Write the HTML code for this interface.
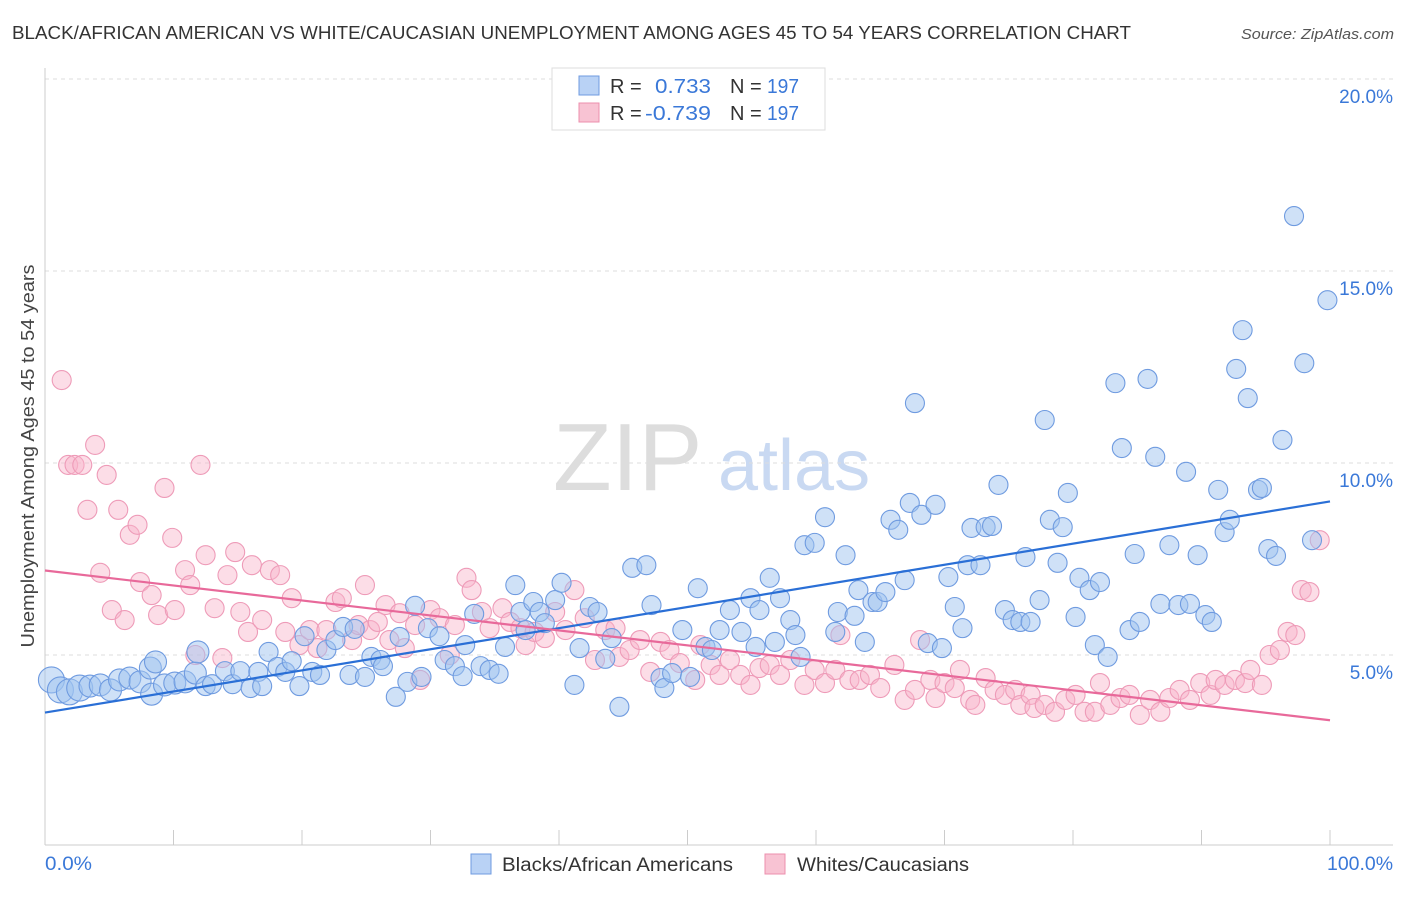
<!DOCTYPE html>
<html><head><meta charset="utf-8"><style>
body{margin:0;background:#fff;font-family:"Liberation Sans",sans-serif;}
svg text{font-family:"Liberation Sans",sans-serif;}
</style></head><body>
<svg id="chart" width="1406" height="892" viewBox="0 0 1406 892" xmlns="http://www.w3.org/2000/svg">
<text x="12" y="39" font-size="18" fill="#333" textLength="1119" lengthAdjust="spacingAndGlyphs">BLACK/AFRICAN AMERICAN VS WHITE/CAUCASIAN UNEMPLOYMENT AMONG AGES 45 TO 54 YEARS CORRELATION CHART</text>
<text x="1241" y="39" font-size="15" fill="#555" font-style="italic" textLength="153" lengthAdjust="spacingAndGlyphs">Source: ZipAtlas.com</text>
<g>
<text x="553" y="490" font-size="96" fill="#ddd" font-family="Liberation Serif, serif">ZIP</text>
<text x="718" y="490" font-size="72" fill="#c9d9f2">atlas</text>
</g>
<g id="grid"></g>
<g id="axes"></g>
<g id="pink"></g>
<g id="blue"></g>
<g id="trends"></g>
<text transform="translate(34,456) rotate(-90)" font-size="18" fill="#444" text-anchor="middle" textLength="383" lengthAdjust="spacingAndGlyphs">Unemployment Among Ages 45 to 54 years</text>
<text x="45" y="870" font-size="19" fill="#3a78d8" textLength="47" lengthAdjust="spacingAndGlyphs">0.0%</text>
<text x="1327" y="870" font-size="19" fill="#3a78d8" textLength="66" lengthAdjust="spacingAndGlyphs">100.0%</text>
<g>
<rect x="552" y="68" width="273" height="62" fill="#fff" stroke="#ddd"/>
<rect x="579" y="76" width="20" height="19" fill="#b9d2f5" stroke="#6f9be0"/>
<rect x="579" y="103" width="20" height="19" fill="#f8c3d3" stroke="#ec8fae"/>
<text x="610" y="93" font-size="20" fill="#333">R =</text>
<text x="655" y="93" font-size="20" fill="#3a78d8" textLength="56" lengthAdjust="spacingAndGlyphs">0.733</text>
<text x="730" y="93" font-size="20" fill="#333">N =</text>
<text x="767" y="93" font-size="20" fill="#3a78d8" textLength="32" lengthAdjust="spacingAndGlyphs">197</text>
<text x="610" y="120" font-size="20" fill="#333">R =</text>
<text x="645" y="120" font-size="20" fill="#3a78d8" textLength="66" lengthAdjust="spacingAndGlyphs">-0.739</text>
<text x="730" y="120" font-size="20" fill="#333">N =</text>
<text x="767" y="120" font-size="20" fill="#3a78d8" textLength="32" lengthAdjust="spacingAndGlyphs">197</text>
</g>
<g>
<rect x="471" y="854" width="20" height="20" fill="#b9d2f5" stroke="#6f9be0"/>
<text x="502" y="871" font-size="19" fill="#333" textLength="231" lengthAdjust="spacingAndGlyphs">Blacks/African Americans</text>
<rect x="765" y="854" width="20" height="20" fill="#f8c3d3" stroke="#ec8fae"/>
<text x="797" y="871" font-size="19" fill="#333" textLength="172" lengthAdjust="spacingAndGlyphs">Whites/Caucasians</text>
</g>
</svg>
<script>
const yTicks=[5,10,15,20];
const yTickLabels=["5.0%","10.0%","15.0%","20.0%"];
const xTicks=[0,10,20,30,40,50,60,70,80,90,100];
const blueX=[0.5,1.2,1.9,2.7,3.5,4.3,5.1,5.8,6.6,7.4,8.2,8.6,8.3,9.3,10.1,10.9,11.7,11.9,12.5,13.0,14.0,14.6,15.2,16.0,16.6,16.9,17.4,18.1,18.7,19.2,19.8,20.2,20.8,21.4,21.9,22.6,23.2,23.7,24.1,24.9,25.4,26.1,26.3,27.3,27.6,28.2,28.8,29.3,29.8,30.7,31.1,31.9,32.5,32.7,33.4,33.9,34.6,35.3,35.8,36.6,37.0,37.4,38.0,38.5,38.9,39.7,40.2,41.2,41.6,42.4,43.0,43.6,44.1,44.7,45.7,46.8,47.2,47.9,48.2,48.8,49.6,50.2,50.8,51.4,51.9,52.5,53.3,54.2,54.9,55.3,55.6,56.4,56.8,57.2,58.0,58.4,58.8,59.1,59.9,60.7,61.5,61.7,62.3,63.0,63.3,63.8,64.4,64.8,65.4,65.8,66.4,66.9,67.3,67.7,68.2,68.7,69.3,69.8,70.3,70.8,71.4,71.8,72.1,72.8,73.2,73.7,74.2,74.7,75.3,75.9,76.3,76.7,77.4,77.8,78.2,78.8,79.2,79.6,80.2,80.5,81.3,81.7,82.1,82.7,83.3,83.8,84.4,84.8,85.2,85.8,86.4,86.8,87.5,88.2,88.8,89.1,89.7,90.3,90.8,91.3,91.8,92.2,92.7,93.2,93.6,94.4,94.7,95.2,95.8,96.3,97.2,98.0,98.6,99.8];
const blueY=[4.35,4.09,4.04,4.14,4.19,4.22,4.09,4.35,4.40,4.30,4.66,4.82,3.98,4.22,4.27,4.30,4.53,5.08,4.19,4.24,4.58,4.24,4.58,4.14,4.56,4.19,5.08,4.69,4.56,4.84,4.19,5.49,4.56,4.48,5.13,5.39,5.73,4.48,5.68,4.43,4.95,4.87,4.71,3.91,5.47,4.30,6.28,4.43,5.70,5.49,4.87,4.71,4.45,5.26,6.07,4.71,4.61,4.51,5.21,6.82,6.12,5.65,6.38,6.12,5.83,6.43,6.88,4.22,5.18,6.25,6.12,4.90,5.44,3.65,7.27,7.34,6.30,4.40,4.14,4.53,5.65,4.43,6.74,5.21,5.13,5.65,6.17,5.60,6.48,5.21,6.17,7.01,5.34,6.48,5.91,5.52,4.95,7.86,7.92,8.59,5.60,6.12,7.60,6.02,6.69,5.34,6.38,6.38,6.64,8.52,8.26,6.95,8.96,11.56,8.65,5.31,8.91,5.18,7.03,6.25,5.70,7.34,8.31,7.34,8.33,8.36,9.43,6.17,5.91,5.86,7.55,5.86,6.43,11.12,8.52,7.40,8.33,9.22,5.99,7.01,6.69,5.26,6.90,4.95,12.08,10.39,5.65,7.63,5.86,12.19,10.16,6.33,7.86,6.30,9.77,6.33,7.60,6.04,5.86,9.30,8.20,8.52,12.45,13.46,11.69,9.30,9.35,7.76,7.58,10.60,16.43,12.60,7.99,14.24];
const pinkX=[1.3,1.8,2.3,2.9,3.3,3.9,4.3,4.8,5.2,5.7,6.2,6.6,7.2,7.4,8.3,8.8,9.3,9.9,10.1,10.9,11.3,11.7,12.1,12.5,13.2,13.8,14.2,14.8,15.2,15.8,16.1,16.9,17.5,18.3,18.7,19.2,19.8,20.6,21.2,21.9,22.6,23.1,23.9,24.4,24.9,25.3,25.9,26.5,26.8,27.6,28.0,28.8,29.2,30.0,30.7,31.5,31.9,32.8,33.2,34.0,34.6,35.6,36.2,37.0,37.4,38.1,38.9,39.7,40.5,41.2,42.0,42.8,43.6,44.4,44.7,45.5,46.3,47.1,47.9,48.6,49.4,50.6,51.0,51.8,52.5,53.3,54.1,54.9,55.6,56.4,57.2,58.0,59.1,59.9,60.7,61.5,61.9,62.6,63.4,64.2,65.0,66.1,66.9,67.7,68.1,68.9,69.3,70.0,70.8,71.2,72.0,72.4,73.2,73.9,74.7,75.5,75.9,76.7,77.0,77.8,78.6,79.4,80.2,80.9,81.7,82.1,82.9,83.7,84.4,85.2,86.0,86.8,87.5,88.3,89.1,89.9,90.7,91.1,91.8,92.6,93.4,93.8,94.7,95.3,96.1,96.7,97.3,97.8,98.4,99.2];
const pinkY=[12.16,9.95,9.95,9.95,8.78,10.47,7.14,9.69,6.17,8.78,5.91,8.13,8.39,6.90,6.56,6.04,9.35,8.05,6.17,7.21,6.82,5.00,9.95,7.60,6.22,4.92,7.08,7.68,6.12,5.60,7.34,5.91,7.21,7.08,5.60,6.48,5.26,5.65,5.18,5.65,6.38,6.48,5.39,5.78,6.82,5.65,5.86,6.30,5.39,6.09,5.18,5.78,4.35,6.17,5.96,5.00,5.78,7.01,6.69,6.12,5.70,6.22,5.86,5.70,5.26,5.60,5.44,6.12,5.65,6.69,5.96,4.87,5.65,5.70,4.95,5.13,5.39,4.56,5.34,5.13,4.79,4.35,5.26,4.74,4.48,4.87,4.48,4.22,4.66,4.74,4.48,4.87,4.22,4.61,4.27,4.61,5.52,4.35,4.35,4.48,4.14,4.74,3.83,4.09,5.39,4.35,3.88,4.27,4.14,4.61,3.83,3.70,4.40,4.09,3.96,4.09,3.70,3.96,3.62,3.70,3.52,3.83,3.96,3.52,3.52,4.27,3.70,3.88,3.96,3.44,3.83,3.52,3.88,4.09,3.83,4.27,3.96,4.35,4.22,4.35,4.27,4.61,4.22,5.00,5.13,5.60,5.52,6.69,6.64,7.99];
const blueTrend=[3.5,9.0];
const pinkTrend=[7.2,3.3];

const NS="http://www.w3.org/2000/svg";
const X0=45,X1=1330,Y0=847,PX5=192/5;
function sx(v){return X0+(X1-X0)*v/100;}
function sy(v){return Y0-v*PX5;}
function mk(tag,attrs,parent){const e=document.createElementNS(NS,tag);for(const k in attrs)e.setAttribute(k,attrs[k]);parent.appendChild(e);return e;}
const grid=document.getElementById('grid'),axes=document.getElementById('axes');
yTicks.forEach((t,i)=>{
  const l=mk('line',{x1:X0,x2:1393,y1:sy(t),y2:sy(t),stroke:'#ddd','stroke-dasharray':'4,4'},grid);
  
  
  const tx=mk('text',{x:1393,y:sy(t)+24,'font-size':19,fill:'#3a78d8','text-anchor':'end'},grid);
  tx.textContent=yTickLabels[i];
  
  
});
const ya=mk('line',{x1:X0,x2:X0,y1:68,y2:845,stroke:'#ccc'},axes);


const xa=mk('line',{x1:X0,x2:1393,y1:845,y2:845,stroke:'#ccc'},axes);


xTicks.forEach(t=>{
  const l=mk('line',{x1:sx(t),x2:sx(t),y1:830,y2:845,stroke:'#ccc'},axes);
  
  
});
function pts(xs,ys,g,fill,stroke,name){
  xs.forEach((x,i)=>{
    const r=(name==='black-point'&&x<12)?(x<3?13:11):9.5;
    const c=mk('circle',{cx:sx(x),cy:sy(ys[i]),r:r,fill:fill,stroke:stroke,'stroke-width':1.1},g);
    
    
  });
}
pts(pinkX,pinkY,document.getElementById('pink'),'rgba(248,180,202,0.45)','#ee9bb8','white-point');
pts(blueX,blueY,document.getElementById('blue'),'rgba(160,195,240,0.5)','#6f9be0','black-point');
const tr=document.getElementById('trends');
const bl=mk('line',{x1:sx(0),y1:sy(blueTrend[0]),x2:sx(100),y2:sy(blueTrend[1]),stroke:'#2a6fd6','stroke-width':2.2},tr);


const pl=mk('line',{x1:sx(0),y1:sy(pinkTrend[0]),x2:sx(100),y2:sy(pinkTrend[1]),stroke:'#e8699a','stroke-width':2.2},tr);


</script>
</body></html>
